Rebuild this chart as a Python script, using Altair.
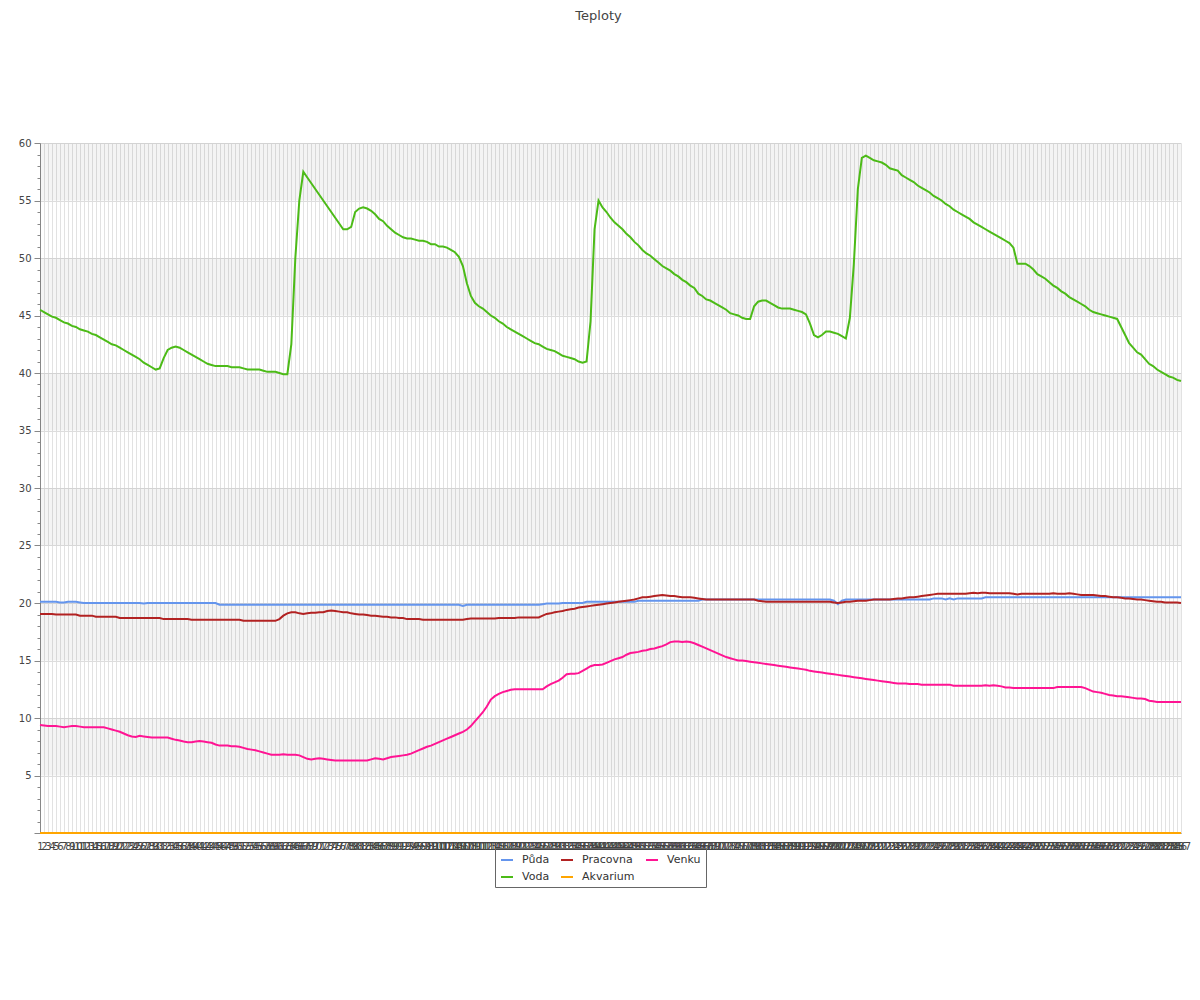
import altair as alt
import pandas as pd

TITLE = "Teploty"
CATEGORIES = list(range(1, 288))

PUDA = [
    20.1, 20.1, 20.1, 20.1, 20.1, 20.05, 20.05, 20.1, 20.1, 20.1,
    20.05, 20.0, 20.0, 20.0, 20.0, 20.0, 20.0, 20.0, 20.0, 20.0,
    20.0, 20.0, 20.0, 20.0, 20.0, 20.0, 19.95, 20.0, 20.0, 20.0,
    20.0, 20.0, 20.0, 20.0, 20.0, 20.0, 20.0, 20.0, 20.0, 20.0,
    20.0, 20.0, 20.0, 20.0, 20.0, 19.85, 19.85, 19.85, 19.85, 19.85,
    19.85, 19.85, 19.85, 19.85, 19.85, 19.85, 19.85, 19.85, 19.85, 19.85,
    19.85, 19.85, 19.85, 19.85, 19.85, 19.85, 19.85, 19.85, 19.85, 19.85,
    19.85, 19.85, 19.85, 19.85, 19.85, 19.85, 19.85, 19.85, 19.85, 19.85,
    19.85, 19.85, 19.85, 19.85, 19.85, 19.85, 19.85, 19.85, 19.85, 19.85,
    19.85, 19.85, 19.85, 19.85, 19.85, 19.85, 19.85, 19.85, 19.85, 19.85,
    19.85, 19.85, 19.85, 19.85, 19.85, 19.85, 19.75, 19.85, 19.85, 19.85,
    19.85, 19.85, 19.85, 19.85, 19.85, 19.85, 19.85, 19.85, 19.85, 19.85,
    19.85, 19.85, 19.85, 19.85, 19.85, 19.85, 19.9, 19.95, 19.95, 19.95,
    19.95, 20.0, 20.0, 20.0, 20.0, 20.0, 20.0, 20.1, 20.1, 20.1,
    20.1, 20.1, 20.1, 20.1, 20.1, 20.1, 20.1, 20.1, 20.1, 20.1,
    20.2, 20.2, 20.2, 20.2, 20.2, 20.2, 20.2, 20.2, 20.2, 20.2,
    20.2, 20.2, 20.2, 20.2, 20.2, 20.2, 20.3, 20.3, 20.3, 20.3,
    20.3, 20.3, 20.3, 20.3, 20.3, 20.3, 20.3, 20.3, 20.3, 20.3,
    20.3, 20.3, 20.3, 20.3, 20.3, 20.3, 20.3, 20.3, 20.3, 20.3,
    20.3, 20.3, 20.3, 20.3, 20.3, 20.3, 20.3, 20.3, 20.3, 20.2,
    19.9, 20.2, 20.3, 20.3, 20.3, 20.3, 20.3, 20.3, 20.3, 20.3,
    20.3, 20.3, 20.3, 20.3, 20.3, 20.3, 20.3, 20.3, 20.3, 20.3,
    20.3, 20.3, 20.3, 20.3, 20.4, 20.4, 20.4, 20.3, 20.4, 20.3,
    20.4, 20.4, 20.4, 20.4, 20.4, 20.4, 20.4, 20.5, 20.5, 20.5,
    20.5, 20.5, 20.5, 20.5, 20.5, 20.5, 20.5, 20.5, 20.5, 20.5,
    20.5, 20.5, 20.5, 20.5, 20.5, 20.5, 20.5, 20.5, 20.5, 20.5,
    20.5, 20.5, 20.5, 20.5, 20.5, 20.5, 20.5, 20.5, 20.5, 20.5,
    20.5, 20.5, 20.5, 20.5, 20.5, 20.5, 20.5, 20.5, 20.5, 20.5,
    20.5, 20.5, 20.5, 20.5, 20.5, 20.5, 20.5,
]

VODA = [
    45.5, 45.3, 45.1, 44.9, 44.8, 44.6, 44.4, 44.3, 44.1, 44.0,
    43.8, 43.7, 43.6, 43.4, 43.3, 43.1, 42.9, 42.7, 42.5, 42.4,
    42.2, 42.0, 41.8, 41.6, 41.4, 41.2, 40.9, 40.7, 40.5, 40.3,
    40.4, 41.3, 42.0, 42.2, 42.3, 42.2, 42.0, 41.8, 41.6, 41.4,
    41.2, 41.0, 40.8, 40.7, 40.6, 40.6, 40.6, 40.6, 40.5, 40.5,
    40.5, 40.4, 40.3, 40.3, 40.3, 40.3, 40.2, 40.1, 40.1, 40.1,
    40.0, 39.9, 39.9, 42.5, 50.0, 55.0, 57.5, 57.0, 56.5, 56.0,
    55.5, 55.0, 54.5, 54.0, 53.5, 53.0, 52.5, 52.5, 52.7, 54.0,
    54.3, 54.4, 54.3, 54.1, 53.8, 53.4, 53.2, 52.8, 52.5, 52.2,
    52.0, 51.8, 51.7, 51.7, 51.6, 51.5, 51.5, 51.4, 51.2, 51.2,
    51.0, 51.0, 50.9, 50.7, 50.5, 50.1, 49.3, 47.8, 46.7, 46.1,
    45.8, 45.6, 45.3, 45.0, 44.8, 44.5, 44.3, 44.0, 43.8, 43.6,
    43.4, 43.2, 43.0, 42.8, 42.6, 42.5, 42.3, 42.1, 42.0, 41.9,
    41.7, 41.5, 41.4, 41.3, 41.2, 41.0, 40.9, 41.0, 44.5, 52.5,
    55.0, 54.4, 54.0, 53.5, 53.1, 52.8, 52.5, 52.1, 51.8, 51.4,
    51.1, 50.7, 50.4, 50.2, 49.9, 49.6, 49.3, 49.1, 48.9, 48.6,
    48.4, 48.1, 47.9, 47.6, 47.4, 46.9, 46.7, 46.4, 46.3, 46.1,
    45.9, 45.7, 45.5, 45.2, 45.1, 45.0, 44.8, 44.7, 44.7, 45.8,
    46.2, 46.3, 46.3, 46.1, 45.9, 45.7, 45.6, 45.6, 45.6, 45.5,
    45.4, 45.3, 45.1, 44.3, 43.3, 43.1, 43.3, 43.6, 43.6, 43.5,
    43.4, 43.2, 43.0, 44.8, 49.5, 56.0, 58.7, 58.9, 58.7, 58.5,
    58.4, 58.3, 58.1, 57.8, 57.7, 57.6, 57.2, 57.0, 56.8, 56.6,
    56.3, 56.1, 55.9, 55.7, 55.4, 55.2, 55.0, 54.7, 54.5, 54.2,
    54.0, 53.8, 53.6, 53.4, 53.1, 52.9, 52.7, 52.5, 52.3, 52.1,
    51.9, 51.7, 51.5, 51.3, 50.9, 49.5, 49.5, 49.5, 49.3, 49.0,
    48.6, 48.4, 48.2, 47.9, 47.6, 47.4, 47.1, 46.9, 46.6, 46.4,
    46.2, 46.0, 45.8, 45.5, 45.3, 45.2, 45.1, 45.0, 44.9, 44.8,
    44.7, 44.0, 43.3, 42.6, 42.2, 41.8, 41.6, 41.2, 40.8, 40.6,
    40.3, 40.1, 39.9, 39.7, 39.6, 39.4, 39.3,
]

PRACOVNA = [
    19.05, 19.05, 19.05, 19.05, 19.0, 19.0, 19.0, 19.0, 19.0, 19.0,
    18.9, 18.9, 18.9, 18.9, 18.8, 18.8, 18.8, 18.8, 18.8, 18.8,
    18.7, 18.7, 18.7, 18.7, 18.7, 18.7, 18.7, 18.7, 18.7, 18.7,
    18.7, 18.6, 18.6, 18.6, 18.6, 18.6, 18.6, 18.6, 18.55, 18.55,
    18.55, 18.55, 18.55, 18.55, 18.55, 18.55, 18.55, 18.55, 18.55, 18.55,
    18.55, 18.45, 18.45, 18.45, 18.45, 18.45, 18.45, 18.45, 18.45, 18.45,
    18.6, 18.9, 19.1, 19.2, 19.2, 19.1, 19.05, 19.1, 19.15, 19.15,
    19.2, 19.2, 19.3, 19.35, 19.3, 19.25, 19.2, 19.2, 19.1, 19.05,
    19.0, 19.0, 18.95, 18.9, 18.9, 18.85, 18.8, 18.8, 18.75, 18.75,
    18.7, 18.7, 18.6, 18.6, 18.6, 18.6, 18.55, 18.55, 18.55, 18.55,
    18.55, 18.55, 18.55, 18.55, 18.55, 18.55, 18.55, 18.6, 18.65, 18.65,
    18.65, 18.65, 18.65, 18.65, 18.65, 18.7, 18.7, 18.7, 18.7, 18.7,
    18.75, 18.75, 18.75, 18.75, 18.75, 18.75, 18.9, 19.05, 19.1, 19.2,
    19.25, 19.3, 19.4, 19.45, 19.5, 19.6, 19.65, 19.7, 19.75, 19.8,
    19.85, 19.9, 19.95, 20.0, 20.05, 20.1, 20.15, 20.2, 20.25, 20.3,
    20.4, 20.5, 20.5, 20.55, 20.6, 20.65, 20.7, 20.65, 20.6, 20.6,
    20.55, 20.5, 20.5, 20.5, 20.45, 20.4, 20.35, 20.3, 20.3, 20.3,
    20.3, 20.3, 20.3, 20.3, 20.3, 20.3, 20.3, 20.3, 20.3, 20.3,
    20.2, 20.15, 20.1, 20.1, 20.1, 20.1, 20.1, 20.1, 20.1, 20.1,
    20.1, 20.1, 20.1, 20.1, 20.1, 20.1, 20.1, 20.1, 20.1, 20.05,
    20.0, 20.05, 20.1, 20.1, 20.15, 20.2, 20.2, 20.2, 20.25, 20.3,
    20.3, 20.3, 20.3, 20.3, 20.35, 20.4, 20.4, 20.45, 20.5, 20.5,
    20.55, 20.6, 20.65, 20.7, 20.75, 20.8, 20.8, 20.8, 20.8, 20.8,
    20.8, 20.8, 20.8, 20.85, 20.9, 20.85, 20.9, 20.9, 20.85, 20.85,
    20.85, 20.85, 20.85, 20.85, 20.8, 20.75, 20.8, 20.8, 20.8, 20.8,
    20.8, 20.8, 20.8, 20.8, 20.85, 20.8, 20.8, 20.8, 20.85, 20.8,
    20.75, 20.7, 20.7, 20.7, 20.7, 20.65, 20.6, 20.6, 20.55, 20.5,
    20.5, 20.45, 20.4, 20.4, 20.35, 20.3, 20.3, 20.25, 20.2, 20.15,
    20.1, 20.1, 20.05, 20.05, 20.05, 20.05, 20.0,
]

AKVARIUM = [
    0, 0, 0, 0, 0, 0, 0, 0, 0, 0, 0, 0, 0, 0, 0, 0, 0, 0, 0, 0,
    0, 0, 0, 0, 0, 0, 0, 0, 0, 0, 0, 0, 0, 0, 0, 0, 0, 0, 0, 0,
    0, 0, 0, 0, 0, 0, 0, 0, 0, 0, 0, 0, 0, 0, 0, 0, 0, 0, 0, 0,
    0, 0, 0, 0, 0, 0, 0, 0, 0, 0, 0, 0, 0, 0, 0, 0, 0, 0, 0, 0,
    0, 0, 0, 0, 0, 0, 0, 0, 0, 0, 0, 0, 0, 0, 0, 0, 0, 0, 0, 0,
    0, 0, 0, 0, 0, 0, 0, 0, 0, 0, 0, 0, 0, 0, 0, 0, 0, 0, 0, 0,
    0, 0, 0, 0, 0, 0, 0, 0, 0, 0, 0, 0, 0, 0, 0, 0, 0, 0, 0, 0,
    0, 0, 0, 0, 0, 0, 0, 0, 0, 0, 0, 0, 0, 0, 0, 0, 0, 0, 0, 0,
    0, 0, 0, 0, 0, 0, 0, 0, 0, 0, 0, 0, 0, 0, 0, 0, 0, 0, 0, 0,
    0, 0, 0, 0, 0, 0, 0, 0, 0, 0, 0, 0, 0, 0, 0, 0, 0, 0, 0, 0,
    0, 0, 0, 0, 0, 0, 0, 0, 0, 0, 0, 0, 0, 0, 0, 0, 0, 0, 0, 0,
    0, 0, 0, 0, 0, 0, 0, 0, 0, 0, 0, 0, 0, 0, 0, 0, 0, 0, 0, 0,
    0, 0, 0, 0, 0, 0, 0, 0, 0, 0, 0, 0, 0, 0, 0, 0, 0, 0, 0, 0,
    0, 0, 0, 0, 0, 0, 0, 0, 0, 0, 0, 0, 0, 0, 0, 0, 0, 0, 0, 0,
    0, 0, 0, 0, 0, 0, 0,
]

VENKU = [
    9.4, 9.35, 9.3, 9.3, 9.3, 9.25, 9.2, 9.25, 9.3, 9.3,
    9.25, 9.2, 9.2, 9.2, 9.2, 9.2, 9.2, 9.1, 9.0, 8.9,
    8.8, 8.65, 8.5, 8.4, 8.35, 8.45, 8.4, 8.35, 8.3, 8.3,
    8.3, 8.3, 8.3, 8.2, 8.1, 8.05, 7.95, 7.9, 7.9, 7.95,
    8.0, 7.95, 7.9, 7.85, 7.7, 7.6, 7.6, 7.6, 7.55, 7.55,
    7.5, 7.4, 7.3, 7.25, 7.2, 7.1, 7.0, 6.9, 6.8, 6.8,
    6.8, 6.85, 6.8, 6.8, 6.8, 6.75, 6.6, 6.45, 6.4, 6.45,
    6.5, 6.45, 6.4, 6.35, 6.3, 6.3, 6.3, 6.3, 6.3, 6.3,
    6.3, 6.3, 6.3, 6.4, 6.5, 6.45, 6.4, 6.5, 6.6, 6.65,
    6.7, 6.75, 6.8, 6.9, 7.05, 7.2, 7.35, 7.5, 7.6, 7.75,
    7.9, 8.05, 8.2, 8.35, 8.5, 8.65, 8.8, 9.0, 9.3, 9.7,
    10.1, 10.5, 11.0, 11.6, 11.9, 12.1, 12.25, 12.35, 12.45, 12.5,
    12.5, 12.5, 12.5, 12.5, 12.5, 12.5, 12.5, 12.75, 12.95, 13.1,
    13.25, 13.5, 13.8, 13.85, 13.85, 13.9, 14.1, 14.3, 14.5, 14.6,
    14.6, 14.65, 14.8, 14.95, 15.1, 15.2, 15.3, 15.5, 15.65, 15.7,
    15.75, 15.85, 15.9, 16.0, 16.05, 16.15, 16.25, 16.4, 16.6, 16.65,
    16.65, 16.6, 16.65, 16.6, 16.5, 16.35, 16.2, 16.05, 15.9, 15.75,
    15.6, 15.45, 15.3, 15.2, 15.1, 15.0, 15.0, 14.95, 14.9, 14.85,
    14.8, 14.75, 14.7, 14.65, 14.6, 14.55, 14.5, 14.45, 14.4, 14.35,
    14.3, 14.25, 14.2, 14.1, 14.05, 14.0, 13.95, 13.9, 13.85, 13.8,
    13.75, 13.7, 13.65, 13.6, 13.55, 13.5, 13.45, 13.4, 13.35, 13.3,
    13.25, 13.2, 13.15, 13.1, 13.05, 13.0, 13.0, 13.0, 12.95, 12.95,
    12.95, 12.9, 12.9, 12.9, 12.9, 12.9, 12.9, 12.9, 12.9, 12.8,
    12.8, 12.8, 12.8, 12.8, 12.8, 12.8, 12.8, 12.85, 12.8, 12.85,
    12.8, 12.75, 12.65, 12.65, 12.6, 12.6, 12.6, 12.6, 12.6, 12.6,
    12.6, 12.6, 12.6, 12.6, 12.6, 12.7, 12.7, 12.7, 12.7, 12.7,
    12.7, 12.7, 12.6, 12.45, 12.3, 12.25, 12.2, 12.1, 12.0, 11.95,
    11.9, 11.9, 11.85, 11.8, 11.75, 11.7, 11.7, 11.65, 11.5, 11.45,
    11.4, 11.4, 11.4, 11.4, 11.4, 11.4, 11.4,
]

SERIES_ORDER = ["Půda", "Voda", "Pracovna", "Akvarium", "Venku"]
SERIES_COLORS = ["#6495ED", "#4CBB17", "#B22222", "#FFA500", "#FF1493"]
Y_TICKS = list(range(0, 61))
BAND_LOWS = [5, 15, 25, 35, 45, 55]
BAND_HIGHS = [10, 20, 30, 40, 50, 60]

series = {
    "Půda": PUDA,
    "Voda": VODA,
    "Pracovna": PRACOVNA,
    "Akvarium": AKVARIUM,
    "Venku": VENKU,
}
for name, vals in series.items():
    assert len(vals) == len(CATEGORIES), (name, len(vals))

rows = []
for name, vals in series.items():
    for c, v in zip(CATEGORIES, vals):
        rows.append({"i": c, "t": v, "s": name})
df = pd.DataFrame(rows)
bands = pd.DataFrame({"lo": BAND_LOWS, "hi": BAND_HIGHS})

W, H = 1141, 690
FONT = "DejaVu Sans"
MAJOR = "datum.value % 5 === 0"

y_scale = alt.Scale(domain=[0, 60], nice=False)
y_axis = alt.Axis(
    title=None,
    values=Y_TICKS,
    labelExpr="datum.value % 5 === 0 && datum.value > 0 ? datum.label : ''",
    labelOverlap=False,
    labelFont=FONT,
    labelFontSize=10,
    labelColor="#444444",
    labelPadding=3,
    tickColor="#888888",
    tickSize={"condition": {"test": MAJOR, "value": 6}, "value": 3},
    grid=True,
    gridColor="#dddddd",
    gridOpacity={"condition": {"test": MAJOR, "value": 1}, "value": 0},
    domainColor="#888888",
)

band_layer = alt.Chart(bands).mark_rect(fill="#000000", fillOpacity=0.045).encode(
    x=alt.value(0),
    x2=alt.value(W),
    y=alt.Y("lo:Q", scale=y_scale, axis=y_axis),
    y2="hi:Q",
)

line_layer = alt.Chart(df).mark_line(strokeWidth=2).encode(
    x=alt.X(
        "i:O",
        sort=CATEGORIES,
        scale=alt.Scale(type="point", padding=0),
        axis=alt.Axis(
            title=None,
            labelAngle=0,
            labelOverlap=False,
            labelFont=FONT,
            labelFontSize=10,
            labelColor="#444444",
            labelPadding=8,
            ticks=False,
            grid=True,
            gridColor="#e2e2e2",
            domainColor="#888888",
        ),
    ),
    y=alt.Y("t:Q", scale=y_scale, axis=y_axis),
    color=alt.Color(
        "s:N",
        scale=alt.Scale(domain=SERIES_ORDER, range=SERIES_COLORS),
        legend=alt.Legend(
            title=None,
            orient="none",
            legendX=455,
            legendY=705,
            columns=3,
            symbolType="stroke",
            symbolSize=144,
            symbolStrokeWidth=2,
            labelFont=FONT,
            labelFontSize=11,
            labelColor="#333333",
            labelOffset=8,
            strokeColor="#666666",
            padding=5,
            rowPadding=5,
            columnPadding=7,
        ),
    ),
)

chart = alt.layer(band_layer, line_layer).properties(
    width=W,
    height=H,
    title=alt.Title(
        TITLE,
        font=FONT,
        fontSize=13,
        fontWeight="normal",
        color="#444444",
        offset=115,
        dx=-12,
    ),
    padding={"left": 32, "top": 135, "right": 11, "bottom": 120},
    autosize=alt.AutoSizeParams(type="none"),
).configure_view(stroke=None)

chart.save("out.html", embed_options={"renderer": "svg", "actions": False})
